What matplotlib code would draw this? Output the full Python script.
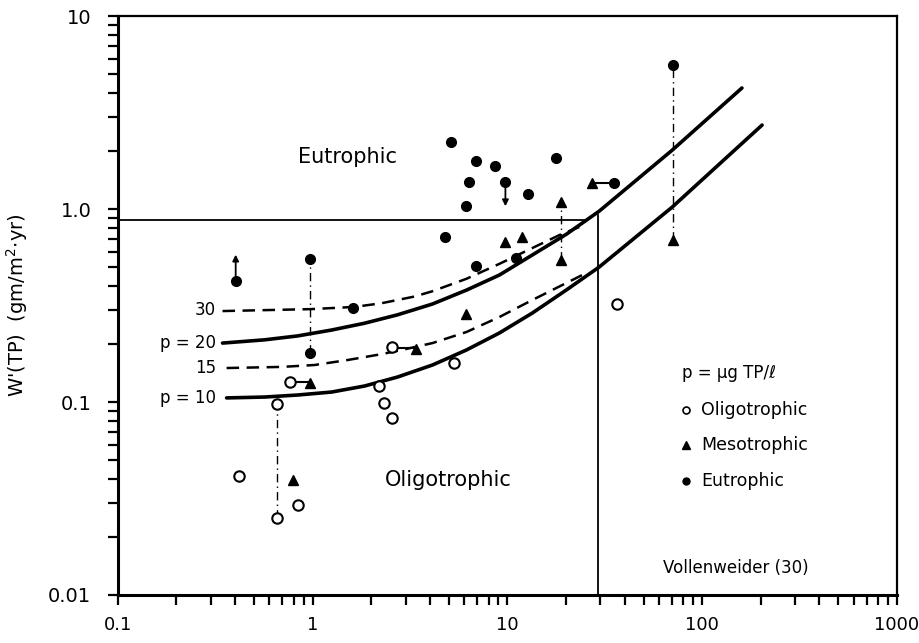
import numpy as np
import matplotlib.pyplot as plt
from matplotlib.ticker import LogLocator, NullFormatter

# Loading curves W'(TP) vs. areal water load, for p = ug TP/l
qs_p30 = [0.345, 0.988, 1.642, 2.258, 3.334, 4.125, 6.163, 9.10, 13.43, 18.5, 23.4]
w_p30 = [0.296, 0.303, 0.311, 0.325, 0.352, 0.375, 0.435, 0.52, 0.628, 0.733, 0.807]

qs_p20 = [0.345, 0.567, 0.838, 1.251, 1.848, 2.729, 4.125, 6.163, 9.10, 13.43, 20.07, 29.6, 70.2, 160]
w_p20 = [0.202, 0.21, 0.22, 0.236, 0.256, 0.283, 0.322, 0.38, 0.455, 0.578, 0.74, 0.975, 2.02, 4.24]

qs_p15 = [0.362, 0.693, 1.024, 1.512, 2.258, 2.860, 4.125, 6.163, 9.10, 13.43, 20.07, 25.4]
w_p15 = [0.150, 0.152, 0.1555, 0.165, 0.177, 0.186, 0.202, 0.2305, 0.2757, 0.3377, 0.4137, 0.466]

qs_p10 = [0.362, 0.567, 0.838, 1.251, 1.848, 2.729, 4.125, 6.163, 9.10, 13.43, 20.07, 29.6, 70.2, 203]
w_p10 = [0.105, 0.1061, 0.1087, 0.1126, 0.121, 0.1347, 0.1555, 0.186, 0.2279, 0.2891, 0.3805, 0.5006, 1.024, 2.724]

# Lakes by trophic state
oligo_x = [0.42, 0.66, 0.84, 0.66, 0.77, 2.18, 2.34, 2.57, 2.57, 5.35, 36.6]
oligo_y = [0.0414, 0.025, 0.0292, 0.098, 0.127, 0.121, 0.099, 0.0826, 0.193, 0.159, 0.322]

meso_x = [0.79, 0.97, 3.41, 6.16, 9.77, 11.9, 18.9, 18.9, 27.3, 71]
meso_y = [0.0394, 0.126, 0.188, 0.286, 0.675, 0.716, 1.09, 0.544, 1.36, 0.69]

eutro_x = [0.403, 0.97, 0.97, 1.62, 5.16, 6.93, 8.67, 6.38, 9.77, 12.7, 17.8, 6.16, 4.81, 6.93, 11.1, 35.4, 71]
eutro_y = [0.423, 0.551, 0.179, 0.307, 2.22, 1.77, 1.67, 1.38, 1.38, 1.20, 1.84, 1.04, 0.716, 0.507, 0.557, 1.36, 5.58]

# Ranges for the same lake (vertical) and paired estimates (horizontal)
ranges_v = [(0.66, 0.025, 0.098), (0.97, 0.179, 0.551), (18.9, 0.544, 1.09), (71, 0.69, 5.58)]
ranges_h = [(0.127, 0.77, 0.97), (0.19, 2.57, 3.41), (1.36, 27.3, 35.4)]

# Vollenweider boundary lines
limit_w = 0.88
limit_qs = 29.3

plt.figure(figsize=(9.2, 6.43), dpi=100)
ax = plt.axes([0.128, 0.0747, 0.847, 0.9003])
ax.set_xscale('log')
ax.set_yscale('log')
ax.set_xlim(0.1, 1000)
ax.set_ylim(0.01, 10)

ax.plot([0.1, 25.7], [limit_w, limit_w], color='black', lw=1.3)
ax.plot([limit_qs, limit_qs], [0.01, 0.93], color='black', lw=1.3)

ax.plot(qs_p20, w_p20, color='black', lw=2.6, solid_capstyle='round', solid_joinstyle='round')
ax.plot(qs_p10, w_p10, color='black', lw=2.6, solid_capstyle='round', solid_joinstyle='round')
ax.plot(qs_p30, w_p30, color='black', lw=1.8, dashes=(5, 3))
ax.plot(qs_p15, w_p15, color='black', lw=1.8, dashes=(5, 3))

for x, y0, y1 in ranges_v:
    ax.plot([x, x], [y0, y1], color='black', lw=1.0, dashes=(6, 3, 1, 3))
for y, x0, x1 in ranges_h:
    ax.plot([x0, x1], [y, y], color='black', lw=1.5)

# arrows for open-ended values
ax.annotate('', xy=(0.403, 0.60), xytext=(0.403, 0.423),
            arrowprops=dict(arrowstyle='-|>', color='black', lw=1.3, mutation_scale=9))
ax.annotate('', xy=(9.77, 1.0), xytext=(9.77, 1.38),
            arrowprops=dict(arrowstyle='-|>', color='black', lw=1.3, mutation_scale=9))

ax.plot(oligo_x, oligo_y, 'o', ms=7.5, mfc='white', mec='black', mew=1.5, ls='none')
ax.plot(meso_x, meso_y, '^', ms=6.5, color='black', ls='none')
ax.plot(eutro_x, eutro_y, 'o', ms=7, color='black', ls='none')

# curve labels
lab_kw = dict(fontsize=12, ha='right', va='center')
ax.text(0.32, 0.30, '30', **lab_kw)
ax.text(0.32, 0.202, 'p = 20', **lab_kw)
ax.text(0.32, 0.150, '15', **lab_kw)
ax.text(0.32, 0.105, 'p = 10', **lab_kw)

ax.text(1.51, 1.86, 'Eutrophic', fontsize=15, ha='center', va='center')
ax.text(5.0, 0.0395, 'Oligotrophic', fontsize=15, ha='center', va='center')
ax.text(148, 0.0138, 'Vollenweider (30)', fontsize=12, ha='center', va='center')

# legend as text
ax.text(79, 0.141, 'p = \u00b5g TP/\u2113', fontsize=12, ha='left', va='center')
ax.plot([83], [0.091], 'o', ms=5, mfc='white', mec='black', mew=1.2)
ax.text(99, 0.091, 'Oligotrophic', fontsize=12.5, ha='left', va='center')
ax.plot([83], [0.0598], '^', ms=5.5, color='black')
ax.text(99, 0.0598, 'Mesotrophic', fontsize=12.5, ha='left', va='center')
ax.plot([83], [0.039], 'o', ms=5, color='black')
ax.text(99, 0.039, 'Eutrophic', fontsize=12.5, ha='left', va='center')

# axes styling
for side in ['left', 'bottom']:
    ax.spines[side].set_linewidth(2.2)
for side in ['top', 'right']:
    ax.spines[side].set_linewidth(1.6)
ax.xaxis.set_minor_locator(LogLocator(base=10, subs=np.arange(2, 10), numticks=20))
ax.yaxis.set_minor_locator(LogLocator(base=10, subs=np.arange(2, 10), numticks=20))
ax.xaxis.set_minor_formatter(NullFormatter())
ax.yaxis.set_minor_formatter(NullFormatter())
ax.set_xticks([0.1, 1, 10, 100, 1000])
ax.set_xticklabels(['0.1', '1', '10', '100', '1000'])
ax.set_yticks([0.01, 0.1, 1, 10])
ax.set_yticklabels(['0.01', '0.1', '1.0', '10'])
ax.tick_params(which='both', direction='out', length=7, width=1.6, top=False, right=False)
ax.tick_params(axis='x', which='major', pad=8, labelsize=13)
ax.tick_params(axis='y', which='major', pad=12, labelsize=14)

ax.set_ylabel("W'(TP)  (gm/m$^2$$\\cdot$yr)", fontsize=14)
ax.yaxis.set_label_coords(-0.112, 0.5)

plt.savefig('out.png', dpi=100)
